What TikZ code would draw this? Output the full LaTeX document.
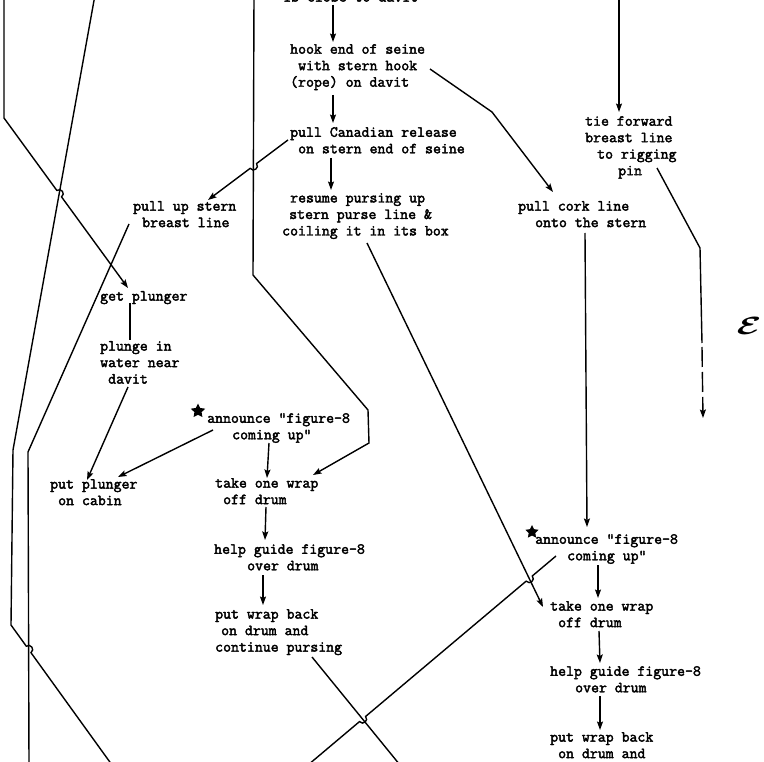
\documentclass[tikz,border=0pt]{standalone}
\usepackage{fontspec}
\usepackage{amsmath}
\usetikzlibrary{arrows.meta,calc,intersections,shapes.geometric}
\newfontfamily\tw{Latin Modern Mono}[FakeBold=2.5]
\newcommand\ind[1]{\hspace*{#1pt}}

\begin{document}
\begin{tikzpicture}[x=1pt,y=-1pt,
  txt/.style={font=\tw\fontsize{15.4}{16.5}\selectfont, align=left, anchor=north west, inner sep=0pt},
  ln/.style={line width=1.4pt},
  arr/.style={ln,-{Stealth[length=8.5pt,width=6pt,inset=1.5pt]}},
  hop/.style={bend left=90, looseness=1.7},
  starmark/.style={star, star points=5, star point ratio=2, fill=black, inner sep=0pt, minimum size=15pt},
]
\clip (0,0) rectangle (764,762);

% ---- text blocks ----
\node[txt] (close)  at (283,-8)  {is close to davit};
\node[txt] (hook)   at (290,44)  {hook end of seine\\\ind{8}with stern hook\\(rope) on davit};
\node[txt] (canada) at (290,127) {pull Canadian release\\\ind{8}on stern end of seine};
\node[txt] (resume) at (282,193) {\ind{8}resume pursing up\\\ind{7}stern purse line \&\\coiling it in its box};
\node[txt] (tie)    at (585,116) {tie forward\\breast line\\\ind{12}to rigging\\\ind{33}pin};
\node[txt] (cork)   at (518,201) {pull cork line\\\ind{17}onto the stern};
\node[txt] (stern)  at (133,201) {pull up stern\\\ind{9}breast line};
\node[txt] (getp)   at (100,291) {get plunger};
\node[txt] (plunge) at (100,341) {plunge in\\water near\\\ind{8}davit};
\node[txt] (putp)   at (50,479)  {put plunger\\\ind{8}on cabin};
\node[txt] (ann1)   at (207,413) {announce "figure-8\\\ind{25}coming up"};
\node[txt] (take1)  at (215,478) {take one wrap\\\ind{8}off drum};
\node[txt] (help1)  at (214,544) {help guide figure-8\\\ind{33}over drum};
\node[txt] (put1)   at (215,609) {put wrap back\\\ind{6}on drum and\\continue pursing};
\node[txt] (ann2)   at (535,534) {announce "figure-8\\\ind{32}coming up"};
\node[txt] (take2)  at (550,601) {take one wrap\\\ind{8}off drum};
\node[txt] (help2)  at (550,666) {help guide figure-8\\\ind{25}over drum};
\node[txt] (put2)   at (550,732) {put wrap back\\\ind{8}on drum and};
\node[starmark] (star1) at (198,411) {};
\node[starmark, minimum size=14pt] (star2) at (532,532) {};
\node (ecal) at (749,326) {\scalebox{1.45}[1]{\fontsize{34}{34}\selectfont$\boldsymbol{\mathcal{E}}$}};

% ---- way points of the long lines ----
\coordinate (l1a) at (4,-5);    \coordinate (l1b) at (4,118);   \coordinate (l1c) at (128,288);
\coordinate (l2a) at (95,-5);   \coordinate (l2b) at (13,450);  \coordinate (l2c) at (11,625);  \coordinate (l2d) at (112,765);
\coordinate (l3a) at (129,224); \coordinate (l3b) at (28,452);  \coordinate (l3c) at (29,765);
\coordinate (l4a) at (254,-5);  \coordinate (l4b) at (253,275); \coordinate (l4c) at (368,410); \coordinate (l4d) at (369,443); \coordinate (l4e) at (313,475);
\coordinate (m1) at (288,140);  \coordinate (m2) at (208,200);
\coordinate (b1) at (367,243);  \coordinate (b2) at (543,607);
\coordinate (a1) at (556,556);  \coordinate (a2) at (308,765);
\coordinate (c1) at (312,657);  \coordinate (c2) at (400,765);
\coordinate (h1) at (430,69);   \coordinate (h2) at (492,112);  \coordinate (h3) at (553,192);
\coordinate (r1) at (657,168);  \coordinate (r2) at (700,248);  \coordinate (r3) at (702,343);
\coordinate (r4) at (702,347);  \coordinate (r5) at (703,418);
\coordinate (t0) at (619,-5);   \coordinate (t1) at (619,112);
\coordinate (k1) at (585,233);  \coordinate (k2) at (587,527);

% crossing points
\path[name path=p1]  (l1b) -- (l1c);
\path[name path=p2]  (l2a) -- (l2b);
\path[name path=p2b] (l2c) -- (l2d);
\path[name path=p3b] (l3b) -- (l3c);
\path[name path=p4]  (l4a) -- (l4b);
\path[name path=pm]  (m1) -- (m2);
\path[name path=pa]  (a1) -- (a2);
\path[name path=pb]  (b1) -- (b2);
\path[name path=pc]  (c1) -- (c2);
\path[name intersections={of=p1 and p2, by=x12}];
\path[name intersections={of=p2b and p3b, by=x23}];
\path[name intersections={of=pm and p4, by=xm}];
\path[name intersections={of=pa and pb, by=xab}];
\path[name intersections={of=pa and pc, by=xac}];

% ---- long lines with hops ----
\draw[arr] (l1a) -- (l1b) -- ($(x12)!4pt!(l1b)$) to[hop] ($(x12)!4pt!(l1c)$) -- (l1c);
\draw[ln] (l2a) -- (l2b) -- (l2c) -- ($(x23)!4pt!(l2c)$) to[hop] ($(x23)!4pt!(l2d)$) -- (l2d);
\draw[ln] (l3a) -- (l3b) -- (l3c);
\draw[arr] (l4a) -- (l4b) -- (l4c) -- (l4d) -- (l4e);
\draw[arr] (m1) -- ($(xm)!4pt!(m1)$) to[hop] ($(xm)!4pt!(m2)$) -- (m2);
\draw[arr] (b1) -- (b2);
\draw[ln] (a1) -- ($(xab)!4pt!(a1)$) to[hop] ($(xab)!4pt!(a2)$) -- ($(xac)!4pt!(a1)$) to[hop] ($(xac)!4pt!(a2)$) -- (a2);
\draw[ln] (c1) -- (c2);
\draw[arr] (h1) -- (h2) -- (h3);
\draw[ln] (r1) -- (r2) -- (r3);
\draw[arr, dash pattern=on 20pt off 5pt] (r4) -- (r5);
\draw[arr] (t0) -- (t1);
\draw[arr] (k1) -- (k2);

% ---- short step arrows ----
\coordinate (s1a) at (333,5);   \coordinate (s1b) at (333,42);
\coordinate (s2a) at (333,95);  \coordinate (s2b) at (333,123);
\coordinate (s3a) at (331,158); \coordinate (s3b) at (331,190);
\coordinate (s4a) at (269,443); \coordinate (s4b) at (267,478);
\coordinate (s5a) at (266,507); \coordinate (s5b) at (265,540);
\coordinate (s6a) at (263,575); \coordinate (s6b) at (263,605);
\coordinate (s7a) at (598,565); \coordinate (s7b) at (598,598);
\coordinate (s8a) at (599,631); \coordinate (s8b) at (600,663);
\coordinate (s9a) at (600,696); \coordinate (s9b) at (600,730);
\coordinate (g1) at (130,303);  \coordinate (g2) at (130,340);
\coordinate (d1) at (128,387);  \coordinate (d2) at (87,480);
\coordinate (n1) at (213,430);  \coordinate (n2) at (118,477);

\draw[arr] (s1a) -- (s1b);
\draw[arr] (s2a) -- (s2b);
\draw[arr] (s3a) -- (s3b);
\draw[arr] (s4a) -- (s4b);
\draw[arr] (s5a) -- (s5b);
\draw[arr] (s6a) -- (s6b);
\draw[arr] (s7a) -- (s7b);
\draw[arr] (s8a) -- (s8b);
\draw[arr] (s9a) -- (s9b);
\draw[ln]  (g1) -- (g2);
\draw[arr] (d1) -- (d2);
\draw[arr] (n1) -- (n2);
\end{tikzpicture}
\end{document}
